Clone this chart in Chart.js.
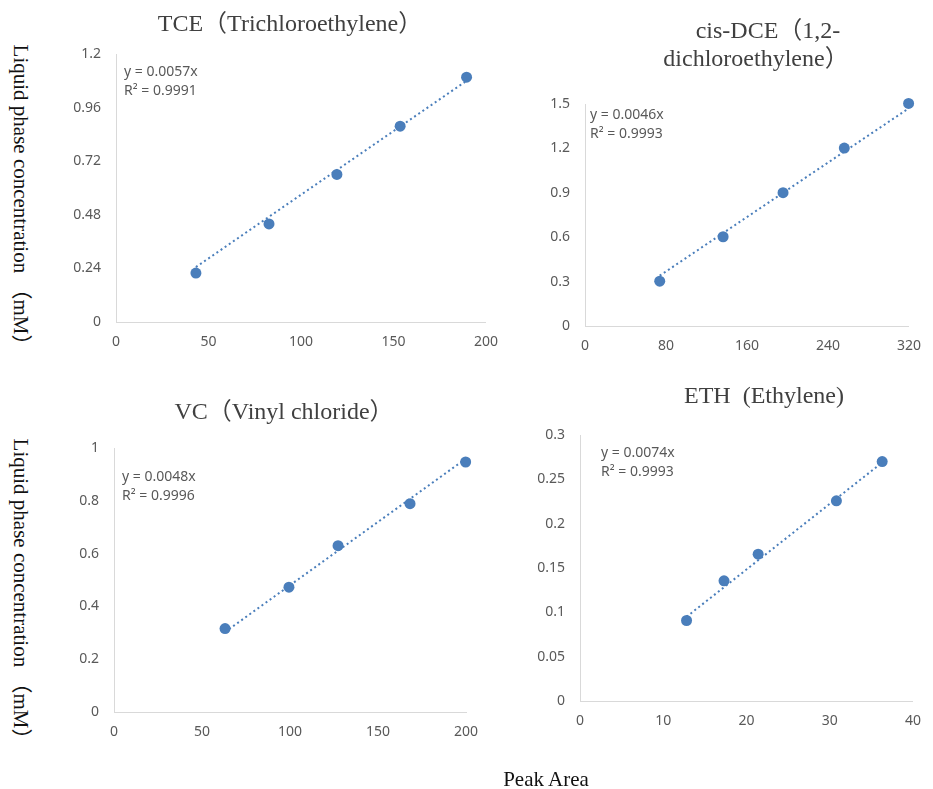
<!DOCTYPE html>
<html>
<head>
<meta charset="utf-8">
<script src="https://cdn.jsdelivr.net/npm/chart.js@4.4.1/dist/chart.umd.min.js"></script>
<style>
  body { margin: 0; background: #fff; width: 933px; height: 789px; position: relative; overflow: hidden; }
  canvas { position: absolute; }
  .axisTitle {
    position: absolute;
    font: 21px "Liberation Serif", "Noto Sans CJK SC", serif;
    color: #111;
    white-space: nowrap;
  }
  .ylab { transform: translate(-50%, -50%) rotate(90deg); }
  .xlab { transform: translate(-50%, -50%); }
</style>
</head>
<body>
<canvas id="tceChart" width="470" height="360" style="left:40px;top:0px"></canvas>
<canvas id="dceChart" width="413" height="360" style="left:520px;top:0px"></canvas>
<canvas id="vcChart" width="470" height="400" style="left:40px;top:380px"></canvas>
<canvas id="ethChart" width="413" height="400" style="left:520px;top:380px"></canvas>
<div class="axisTitle ylab" style="left:23px;top:200px">Liquid phase concentration （mM）</div>
<div class="axisTitle ylab" style="left:23px;top:594px">Liquid phase concentration （mM）</div>
<div class="axisTitle xlab" style="left:546px;top:779px">Peak Area</div>
<script>
// TCE
const tceX = [43.2, 82.7, 119.4, 153.6, 189.5];
const tceY = [0.219, 0.439, 0.661, 0.877, 1.096];
const tceTrendX = [43.2, 189.5];
const tceTrendY = [0.246, 1.080];
const tceXTicks = [0, 50, 100, 150, 200];
const tceYTicks = [0, 0.24, 0.48, 0.72, 0.96, 1.2];
const tceTitle = ['TCE（Trichloroethylene）'];
const tceEquation = ['y = 0.0057x', 'R² = 0.9991'];

// cis-DCE
const dceX = [73.8, 136.4, 195.6, 256.1, 319.6];
const dceY = [0.303, 0.603, 0.901, 1.202, 1.504];
const dceTrendX = [73.8, 319.6];
const dceTrendY = [0.34, 1.47];
const dceXTicks = [0, 80, 160, 240, 320];
const dceYTicks = [0, 0.3, 0.6, 0.9, 1.2, 1.5];
const dceTitle = ['cis-DCE（1,2-', 'dichloroethylene）'];
const dceEquation = ['y = 0.0046x', 'R² = 0.9993'];

// VC
const vcX = [63.1, 99.4, 127.3, 168.2, 199.8];
const vcY = [0.316, 0.473, 0.630, 0.789, 0.947];
const vcTrendX = [63.1, 199.8];
const vcTrendY = [0.303, 0.959];
const vcXTicks = [0, 50, 100, 150, 200];
const vcYTicks = [0, 0.2, 0.4, 0.6, 0.8, 1];
const vcTitle = ['VC（Vinyl chloride）'];
const vcEquation = ['y = 0.0048x', 'R² = 0.9996'];

// ETH
const ethX = [12.8, 17.3, 21.4, 30.8, 36.3];
const ethY = [0.0908, 0.1355, 0.1656, 0.2258, 0.270];
const ethTrendX = [12.8, 36.3];
const ethTrendY = [0.095, 0.269];
const ethXTicks = [0, 10, 20, 30, 40];
const ethYTicks = [0, 0.05, 0.1, 0.15, 0.2, 0.25, 0.3];
const ethTitle = ['ETH  (Ethylene)'];
const ethEquation = ['y = 0.0074x', 'R² = 0.9993'];

const blue = '#4a7ebb';
const tickColor = '#595959';
const tickFont = { family: '"Noto Sans", sans-serif', size: 14 };

// draws the panel title and the trendline equation
const panelText = {
  id: 'panelText',
  afterDraw(chart, args, opts) {
    const ctx = chart.ctx;
    ctx.save();
    ctx.textBaseline = 'middle';
    ctx.textAlign = 'center';
    ctx.fillStyle = '#404040';
    ctx.font = '24px "Liberation Serif", "Noto Sans CJK SC", serif';
    opts.title.forEach((line, i) => ctx.fillText(line, opts.titleX + (opts.lineShift[i] || 0), opts.titleY + i * 28));
    ctx.textAlign = 'left';
    ctx.fillStyle = tickColor;
    ctx.font = '14px "Noto Sans", sans-serif';
    opts.equation.forEach((line, i) => ctx.fillText(line, opts.eqX, opts.eqY + i * 19));
    ctx.restore();
  }
};

const addCalibrationChart = (id, box, xs, ys, trendXs, trendYs, xTicks, yTicks, title, equation, text) => {
  const area = box.area;
  return new Chart(document.getElementById(id), {
    type: 'scatter',
    data: {
      datasets: [
        {
          data: xs.map((x, i) => ({ x: x, y: ys[i] })),
          backgroundColor: blue,
          borderWidth: 0,
          pointRadius: 5.5,
          clip: false,
          order: 1,
        },
        {
          data: trendXs.map((x, i) => ({ x: x, y: trendYs[i] })),
          showLine: true,
          borderColor: blue,
          borderWidth: 2,
          borderDash: [2, 3],
          pointRadius: 0,
          clip: false,
          order: 2,
        },
      ]
    },
    options: {
      responsive: false,
      animation: false,
      events: [],
      layout: {
        padding: { left: 0, top: area.t - box.top, right: box.left + box.width - area.r, bottom: 0 }
      },
      scales: {
        x: {
          type: 'linear',
          min: xTicks[0],
          max: xTicks[xTicks.length - 1],
          afterBuildTicks: (s) => { s.ticks = xTicks.map(v => ({ value: v })); },
          afterFit: (s) => { s.height = box.top + box.height - area.b; },
          ticks: { padding: 12, color: tickColor, font: tickFont, maxRotation: 0, autoSkip: false, callback: (v) => String(v) },
          grid: { display: false, drawTicks: false },
          border: { color: '#d9d9d9', width: 1 },
        },
        y: {
          type: 'linear',
          min: yTicks[0],
          max: yTicks[yTicks.length - 1],
          afterBuildTicks: (s) => { s.ticks = yTicks.map(v => ({ value: v })); },
          afterFit: (s) => { s.width = area.l - box.left; },
          ticks: { padding: 15, color: tickColor, font: tickFont, autoSkip: false, callback: (v) => String(v) },
          grid: { display: false, drawTicks: false },
          border: { color: '#d9d9d9', width: 1 },
        }
      },
      plugins: {
        legend: { display: false },
        tooltip: { enabled: false },
        title: { display: false },
        panelText: {
          title: title,
          equation: equation,
          titleX: text.titleX - box.left,
          titleY: text.titleY - box.top,
          lineShift: text.lineShift || [],
          eqX: text.eqX - box.left,
          eqY: text.eqY - box.top,
        }
      }
    },
    plugins: [panelText]
  });
}

addCalibrationChart('tceChart',
  { left: 40, top: 0, width: 470, height: 360, area: { l: 116, t: 54, r: 489, b: 322 } },
  tceX, tceY, tceTrendX, tceTrendY, tceXTicks, tceYTicks, tceTitle, tceEquation,
  { titleX: 290, titleY: 25, eqX: 124, eqY: 72 });

addCalibrationChart('dceChart',
  { left: 520, top: 0, width: 413, height: 360, area: { l: 585, t: 104, r: 920.5, b: 326 } },
  dceX, dceY, dceTrendX, dceTrendY, dceXTicks, dceYTicks, dceTitle, dceEquation,
  { titleX: 756, titleY: 32, lineShift: [12, 0], eqX: 590, eqY: 115 });

addCalibrationChart('vcChart',
  { left: 40, top: 380, width: 470, height: 400, area: { l: 114, t: 448, r: 466, b: 712 } },
  vcX, vcY, vcTrendX, vcTrendY, vcXTicks, vcYTicks, vcTitle, vcEquation,
  { titleX: 284, titleY: 413, eqX: 122, eqY: 477 });

addCalibrationChart('ethChart',
  { left: 520, top: 380, width: 413, height: 400, area: { l: 580, t: 435, r: 925, b: 701 } },
  ethX, ethY, ethTrendX, ethTrendY, ethXTicks, ethYTicks, ethTitle, ethEquation,
  { titleX: 764, titleY: 397, eqX: 601, eqY: 453 });
</script>
</body>
</html>
